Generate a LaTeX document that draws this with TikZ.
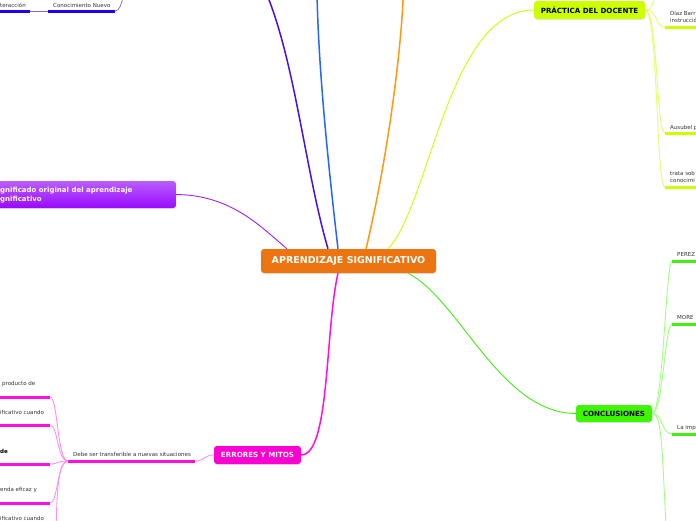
\documentclass[tikz,border=0pt]{standalone}
\usepackage{fontspec}
\setmainfont{DejaVu Sans}
\usetikzlibrary{shadows,calc}
\definecolor{corange}{HTML}{EC7511}
\definecolor{cpurpT}{HTML}{B85EFF}
\definecolor{cpurpB}{HTML}{9A0AFF}
\definecolor{cmag}{HTML}{FF00D2}
\definecolor{clime}{HTML}{CCFF00}
\definecolor{cgreen}{HTML}{3CF700}
\definecolor{lviolet}{HTML}{4411EE}
\definecolor{lblue}{HTML}{2266FF}
\definecolor{lorange}{HTML}{FF9911}
\definecolor{lpurple}{HTML}{A020F0}
\definecolor{lmag}{HTML}{FF10E0}
\definecolor{lmagl}{HTML}{FF90F0}
\definecolor{llime}{HTML}{CCFF00}
\definecolor{llimel}{HTML}{E0FF70}
\definecolor{lgreen}{HTML}{44EE11}
\definecolor{lgreenl}{HTML}{A0FF80}
\definecolor{uviolet}{HTML}{2200EE}
\definecolor{ctext}{HTML}{333333}
\tikzset{
  box/.style={rounded corners=3pt, inner sep=0pt, font=\bfseries,
    drop shadow={opacity=0.2, shadow xshift=0.4pt, shadow yshift=-0.8pt}},
  childtext/.style={anchor=west, inner sep=0pt, text=ctext, font=\fontsize{5.5}{6.5}\selectfont, align=left},
  mainline/.style={line width=1.5pt},
  thinline/.style={line width=0.9pt},
  uline/.style={line width=3pt},
}
\begin{document}
\begin{tikzpicture}[x=1pt,y=-1pt]
\useasboundingbox[fill=white] (0,0) rectangle (696,520);

% ---------- nodes ----------
\node[box, fill=corange, text=white, minimum width=175pt, minimum height=24pt,
  font=\bfseries\fontsize{9.5}{11}\selectfont] (c) at (348.5,261) {APRENDIZAJE SIGNIFICATIVO};
\node[box, top color=cpurpT, bottom color=cpurpB, minimum width=206pt, minimum height=27pt] (sig) at (73,194.5) {};
\node[anchor=west, inner sep=0pt, text=white, align=left,
  font=\bfseries\fontsize{7}{8.3}\selectfont] (sigt) at (0,195) {gnificado original del aprendizaje\\gnificativo};
\node[box, fill=clime, text=black, minimum width=111pt, minimum height=18pt,
  font=\bfseries\fontsize{7.1}{8.5}\selectfont] (pd) at (589.5,10) {PRÁCTICA DEL DOCENTE};
\node[box, fill=cgreen, text=black, minimum width=76pt, minimum height=17pt,
  font=\bfseries\fontsize{7.1}{8.5}\selectfont] (co) at (614,413.5) {CONCLUSIONES};
\node[box, fill=cmag, text=white, minimum width=87pt, minimum height=18pt,
  font=\bfseries\fontsize{7.1}{8.5}\selectfont] (em) at (257.5,455) {ERRORES Y MITOS};

% ---------- anchors on the central node ----------
\coordinate (cPur) at ($(c.north)+(-61.5,0)$);
\coordinate (cVio) at ($(c.north)+(-20.5,0)$);
\coordinate (cBlu) at ($(c.north)+(-10.5,0)$);
\coordinate (cOra) at ($(c.north)+(17.5,0)$);
\coordinate (cLim) at ($(c.north)+(39.5,0)$);
\coordinate (cMag) at ($(c.south)+(-10.5,0)$);
\coordinate (cGre) at ($(c.south)+(59.5,0)$);
\coordinate (offVio) at (265,-10);
\coordinate (offBlu) at (317,-10);
\coordinate (offOra) at (403.5,-10);

% ---------- main connectors ----------
\draw[thinline, draw=lpurple] (sig.east) .. controls (232,195) and (262,228) .. (cPur);
\draw[mainline, draw=lviolet] (cVio) .. controls (305,170) and (295,60) .. (offVio);
\draw[mainline, draw=lblue] (cBlu) .. controls (330,180) and (318,70) .. (offBlu);
\draw[mainline, draw=lorange] (cOra) .. controls (385,170) and (401,60) .. (offOra);
\draw[thinline, draw=llime] (cLim) .. controls (430,205) and (448,10) .. (pd.west);
\draw[thinline, draw=lgreen] (cGre) .. controls (460,300) and (500,413) .. (co.west);
\draw[mainline, draw=lmag] (cMag) .. controls (325,330) and (330,455) .. (em.east);

% ---------- top-left (violet branch) ----------
\coordinate (cnL) at (48,11);
\coordinate (cnR) at (115,11);
\coordinate (teL) at (-5,11);
\coordinate (teR) at (30,11);
\coordinate (offCn) at (124,-6);
\node[childtext] (cnT) at (53,5.5) {Conocimiento Nuevo};
\node[childtext] (teT) at (0,5.5) {teracción};
\draw[uline, draw=uviolet] (cnL) -- (cnR);
\draw[uline, draw=uviolet] (teL) -- (teR);
\draw[line width=0.6pt, draw=uviolet!60] (cnL) -- (teR);
\draw[line width=0.6pt, draw=uviolet!70] (cnR) .. controls (120,11) and (121,4) .. (offCn);

% ---------- práctica del docente children ----------
\coordinate (p1) at (665,27);
\coordinate (p2) at (665,133);
\coordinate (p3) at (665,187);
\coordinate (pE) at (700,0);
\coordinate (offPd) at (655,-6);
\foreach \n in {1,2,3}{\draw[uline, draw=llime] (p\n) -- (p\n -| pE);}
\node[childtext] (d1) at (670,17) {Díaz Barr\\instrucció};
\node[childtext] (d2) at (670,127.5) {Ausubel p};
\node[childtext] (d3) at (670,177) {trata sob\\conocimi};
\draw[thinline, draw=llimel] (pd.east) .. controls (653,10) and (652,4) .. (offPd);
\draw[thinline, draw=llimel] (pd.east) .. controls (658,10) and (655,27) .. (p1);
\draw[thinline, draw=llimel] (pd.east) .. controls (658,10) and (656,133) .. (p2);
\draw[thinline, draw=llimel] (pd.east) .. controls (658,10) and (656,187) .. (p3);

% ---------- conclusiones children ----------
\coordinate (k1) at (672,261);
\coordinate (k2) at (672,324);
\coordinate (k3) at (672,434);
\coordinate (offCo) at (666,526);
\foreach \n in {1,2,3}{\draw[uline, draw=lgreen] (k\n) -- (k\n -| pE);}
\node[childtext] (q1) at (677,254.5) {PEREZ};
\node[childtext] (q2) at (677,317.5) {MORE};
\node[childtext] (q3) at (677,427.5) {La impl};
\draw[thinline, draw=lgreenl] (co.east) .. controls (663,413) and (666,261) .. (k1);
\draw[thinline, draw=lgreenl] (co.east) .. controls (663,413) and (665,324) .. (k2);
\draw[thinline, draw=lgreenl] (co.east) .. controls (662,413) and (662,434) .. (k3);
\draw[thinline, draw=lgreenl] (co.east) .. controls (662,413) and (662,450) .. (offCo);

% ---------- errores y mitos children ----------
\coordinate (dbL) at (68,461);
\coordinate (dbR) at (195,461);
\draw[uline, draw=lmag] (dbL) -- (dbR);
\node[childtext] (dbT) at (73,454) {Debe ser transferible a nuevas situaciones};
\draw[thinline, draw=lmagl] (em.west) .. controls (204,455) and (205,461) .. (dbR);
\coordinate (eS) at (-5,0);
\coordinate (e1) at (50,397);
\coordinate (e2) at (50,425);
\coordinate (e3) at (50,464);
\coordinate (e4) at (50,503);
\coordinate (e5) at (56,530);
\foreach \n in {1,2,3,4}{\draw[uline, draw=lmag] (e\n) -- (e\n -| eS);}
\foreach \n in {1,2,3,4}{\draw[thinline, draw=lmagl] (dbL) .. controls (57,461) and (58,\ifcase\n\or397\or425\or464\or503\fi) .. (e\n);}
\draw[thinline, draw=lmagl] (dbL) .. controls (57,461) and (57,500) .. (e5);
\node[childtext] (m1) at (2,384) {producto de};
\node[childtext] (m2) at (0,412) {ificativo cuando};
\node[childtext, text=black, font=\bfseries\fontsize{5.5}{6.5}\selectfont] (m3) at (0,451) {de};
\node[childtext] (m4) at (0,490) {enda eficaz y};
\node[childtext] (m5) at (0,518) {ificativo cuando};
\end{tikzpicture}
\end{document}
